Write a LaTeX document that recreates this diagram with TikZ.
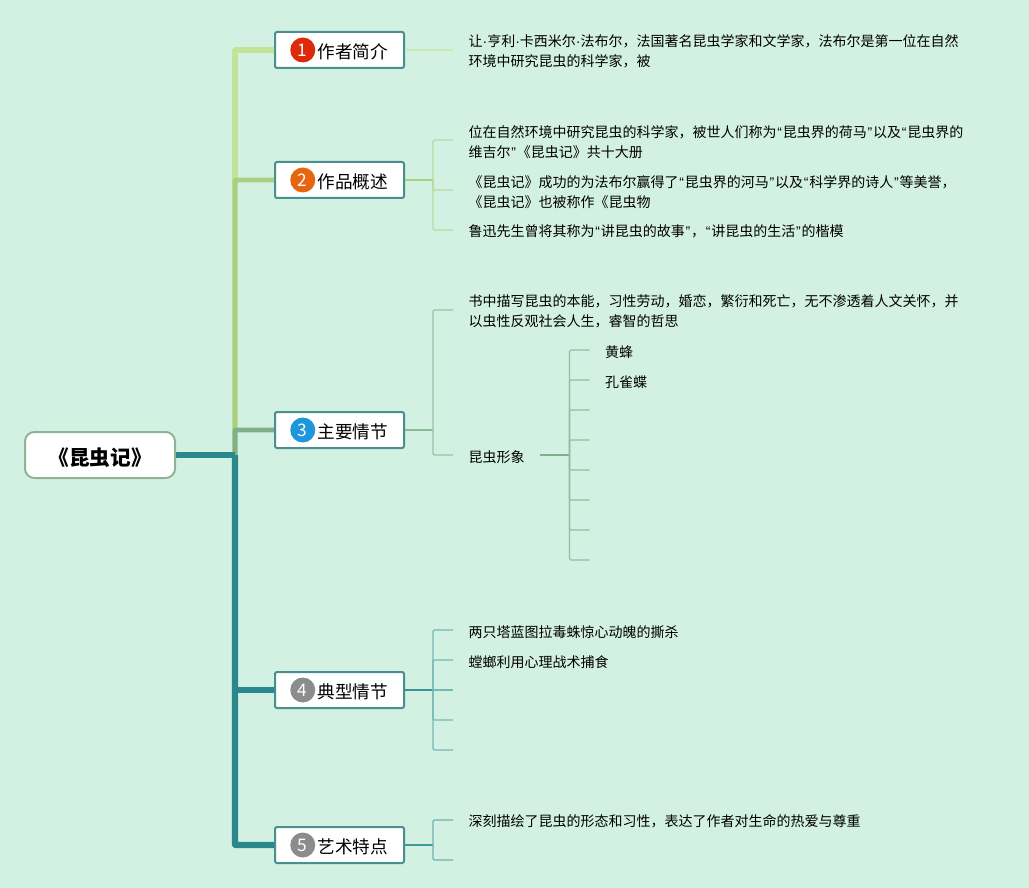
\documentclass[tikz,border=0pt]{standalone}
\usepackage{fontspec}
\usepackage{xcolor}
\usepackage{tikz}
\usetikzlibrary{positioning, calc}
\setmainfont{Noto Sans CJK SC}
\newfontfamily\latinmark{Liberation Sans}
\newcommand{\opq}{\kern0.6pt{\latinmark “}\kern0.6pt}
\newcommand{\clq}{\kern0.6pt{\latinmark ”}\kern0.6pt}
\newcommand{\mdot}{{\latinmark ·}}
\definecolor{canvas}{HTML}{D3F1E2}
\definecolor{toponeline}{HTML}{C3E39B}
\definecolor{toptwoline}{HTML}{A9CF83}
\definecolor{topthreeline}{HTML}{7FB08A}
\definecolor{topfourline}{HTML}{2A878C}
\definecolor{boxline}{HTML}{4A8F90}
\definecolor{rootline}{HTML}{8DB595}
\definecolor{badgered}{HTML}{DD2A0C}
\definecolor{badgeorange}{HTML}{E5660F}
\definecolor{badgeblue}{HTML}{1E96DC}
\definecolor{badgegray}{HTML}{8C8C8C}
\tikzset{
  rootbox/.style={
    rectangle, rounded corners=7pt,
    draw=rootline, line width=1.5pt,
    fill=white,
    minimum height=34.5pt, minimum width=112.5pt,
    text height=16.6pt,
    align=center, font=\fontsize{15.5}{18}\selectfont\bfseries
  },
  topicbox/.style={
    rectangle, rounded corners=1.5pt,
    draw=boxline, line width=1.5pt,
    fill=white,
    minimum height=27pt, text width=72.75pt, inner xsep=12pt, inner ysep=0pt,
    text height=14.4pt,
    align=right, font=\fontsize{13.2}{15}\selectfont
  },
  badge/.style={
    circle, minimum size=18.75pt, inner sep=0pt,
    text=white, font=\fontsize{13}{13}\selectfont
  },
  leaf/.style={
    inner xsep=11.5pt, inner ysep=0pt,
    align=left, font=\fontsize{10.5}{15}\selectfont,
    execute at begin node={\rule{0pt}{11.6pt}}
  },
  leafwide/.style={leaf, text width=378pt},
  trunk/.style={line width=#1, rounded corners=0.5pt},
  twig/.style={line width=#1, rounded corners=1pt}
}
\begin{document}
\begin{tikzpicture}
  \fill[canvas] (0,0) rectangle (771.75pt,-666pt);
  \useasboundingbox (0,0) rectangle (771.75pt,-666pt);

  \node[rootbox] (root) at (75pt,-341.25pt) {《昆虫记》};
  \node[topicbox, right=73.5pt of root, yshift=303.75pt] (t1) {作者简介};
  \node[topicbox, below=69pt of t1] (t2) {作品概述};
  \node[topicbox, below=159pt of t2] (t3) {主要情节};
  \node[topicbox, below=166.5pt of t3] (t4) {典型情节};
  \node[topicbox, below=87.75pt of t4] (t5) {艺术特点};

  \node[badge, fill=badgered, right=12pt of t1.west] (b1) {1};
  \node[badge, fill=badgeorange, right=12pt of t2.west] (b2) {2};
  \node[badge, fill=badgeblue, right=12pt of t3.west] (b3) {3};
  \node[badge, fill=badgegray, right=12pt of t4.west] (b4) {4};
  \node[badge, fill=badgegray, right=12pt of t5.west] (b5) {5};

  % trunk
  \coordinate[right=44.25pt of root] (hub);
  \draw[trunk=4.2pt, toponeline] (hub) |- (t1.west);
  \draw[trunk=3.4pt, toptwoline] (hub) |- (t2.west);
  \draw[trunk=3.6pt, topthreeline] (hub) |- (t3.west);
  \draw[trunk=4.2pt, topfourline] (hub) |- (t4.west);
  \draw[trunk=4.6pt, topfourline] (hub) |- (t5.west);
  \draw[trunk=4.4pt, topfourline] (root.east) -- (hub);

  % topic 1
  \node[leafwide, right=36pt of t1] (l11) {让\mdot 亨利\mdot 卡西米尔\mdot 法布尔，法国著名昆虫学家和文学家，法布尔是第一位在自然\\环境中研究昆虫的科学家，被};
  \draw[twig=0.9pt, toponeline!60!canvas] (t1.east) -- (l11.west);

  % topic 2
  \coordinate[right=21pt of t2] (j2);
  \node[leafwide, right=36pt of t2, yshift=30pt] (l21) {位在自然环境中研究昆虫的科学家，被世人们称为\opq 昆虫界的荷马\clq 以及\opq 昆虫界的\\维吉尔\clq《昆虫记》共十大册};
  \node[leafwide, right=36pt of t2, yshift=-7.5pt] (l22) {《昆虫记》成功的为法布尔赢得了\opq 昆虫界的河马\clq 以及\opq 科学界的诗人\clq 等美誉，\\《昆虫记》也被称作《昆虫物};
  \node[leaf, right=36pt of t2, yshift=-37.5pt] (l23) {鲁迅先生曾将其称为\opq 讲昆虫的故事\clq，\opq 讲昆虫的生活\clq 的楷模};
  \draw[twig=1.1pt, toptwoline] (t2.east) -- (j2);
  \draw[twig=0.9pt, toptwoline!70!canvas] (j2) |- (l21.west);
  \draw[twig=0.9pt, toptwoline!70!canvas] (j2) |- (l22.west);
  \draw[twig=0.9pt, toptwoline!70!canvas] (j2) |- (l23.west);

  % topic 3
  \coordinate[right=21pt of t3] (j3);
  \node[leafwide, right=36pt of t3, yshift=90pt] (l31) {书中描写昆虫的本能，习性劳动，婚恋，繁衍和死亡，无不渗透着人文关怀，并\\以虫性反观社会人生，睿智的哲思};
  \node[leaf, right=36pt of t3, yshift=-18.75pt] (l32) {昆虫形象};
  \draw[twig=1.1pt, topthreeline!85!canvas] (t3.east) -- (j3);
  \draw[twig=0.9pt, topthreeline!70!canvas] (j3) |- (l31.west);
  \draw[twig=0.9pt, topthreeline!70!canvas] (j3) |- (l32.west);

  \coordinate[right=22pt of l32] (j32);
  \node[leaf, right=15pt of j32, yshift=78.75pt] (s1) {黄蜂};
  \node[leaf, right=15pt of j32, yshift=56.25pt] (s2) {孔雀蝶};
  \coordinate[right=15pt of j32, yshift=33.75pt] (s3);
  \coordinate[right=15pt of j32, yshift=11.25pt] (s4);
  \coordinate[right=15pt of j32, yshift=-11.25pt] (s5);
  \coordinate[right=15pt of j32, yshift=-33.75pt] (s6);
  \coordinate[right=15pt of j32, yshift=-56.25pt] (s7);
  \coordinate[right=15pt of j32, yshift=-78.75pt] (s8);
  \draw[twig=1.1pt, topthreeline] (l32.east) -- (j32);
  \draw[twig=0.9pt, topthreeline!80!canvas] (j32) |- (s1.west);
  \draw[twig=0.9pt, topthreeline!80!canvas] (j32) |- (s2.west);
  \draw[twig=0.9pt, topthreeline!80!canvas] (j32) |- (s3);
  \draw[twig=0.9pt, topthreeline!80!canvas] (j32) |- (s4);
  \draw[twig=0.9pt, topthreeline!80!canvas] (j32) |- (s5);
  \draw[twig=0.9pt, topthreeline!80!canvas] (j32) |- (s6);
  \draw[twig=0.9pt, topthreeline!80!canvas] (j32) |- (s7);
  \draw[twig=0.9pt, topthreeline!80!canvas] (j32) |- (s8);

  % topic 4
  \coordinate[right=21pt of t4] (j4);
  \node[leaf, right=36pt of t4, yshift=45pt] (l41) {两只塔蓝图拉毒蛛惊心动魄的撕杀};
  \node[leaf, right=36pt of t4, yshift=22.5pt] (l42) {螳螂利用心理战术捕食};
  \coordinate[right=36pt of t4] (l43);
  \coordinate[right=36pt of t4, yshift=-22.5pt] (l44);
  \coordinate[right=36pt of t4, yshift=-45pt] (l45);
  \draw[twig=1.1pt, topfourline!90!canvas] (t4.east) -- (j4);
  \draw[twig=0.9pt, topfourline!55!canvas] (j4) |- (l41.west);
  \draw[twig=0.9pt, topfourline!55!canvas] (j4) |- (l42.west);
  \draw[twig=0.9pt, topfourline!55!canvas] (j4) -- (l43);
  \draw[twig=0.9pt, topfourline!55!canvas] (j4) |- (l44);
  \draw[twig=0.9pt, topfourline!55!canvas] (j4) |- (l45);

  % topic 5
  \coordinate[right=21pt of t5] (j5);
  \node[leaf, right=36pt of t5, yshift=18.75pt] (l51) {深刻描绘了昆虫的形态和习性，表达了作者对生命的热爱与尊重};
  \coordinate[right=36pt of t5, yshift=-11.25pt] (l52);
  \draw[twig=1.1pt, topfourline!85!canvas] (t5.east) -- (j5);
  \draw[twig=0.9pt, topfourline!60!canvas] (j5) |- (l51.west);
  \draw[twig=0.9pt, topfourline!60!canvas] (j5) |- (l52);
\end{tikzpicture}
\end{document}
